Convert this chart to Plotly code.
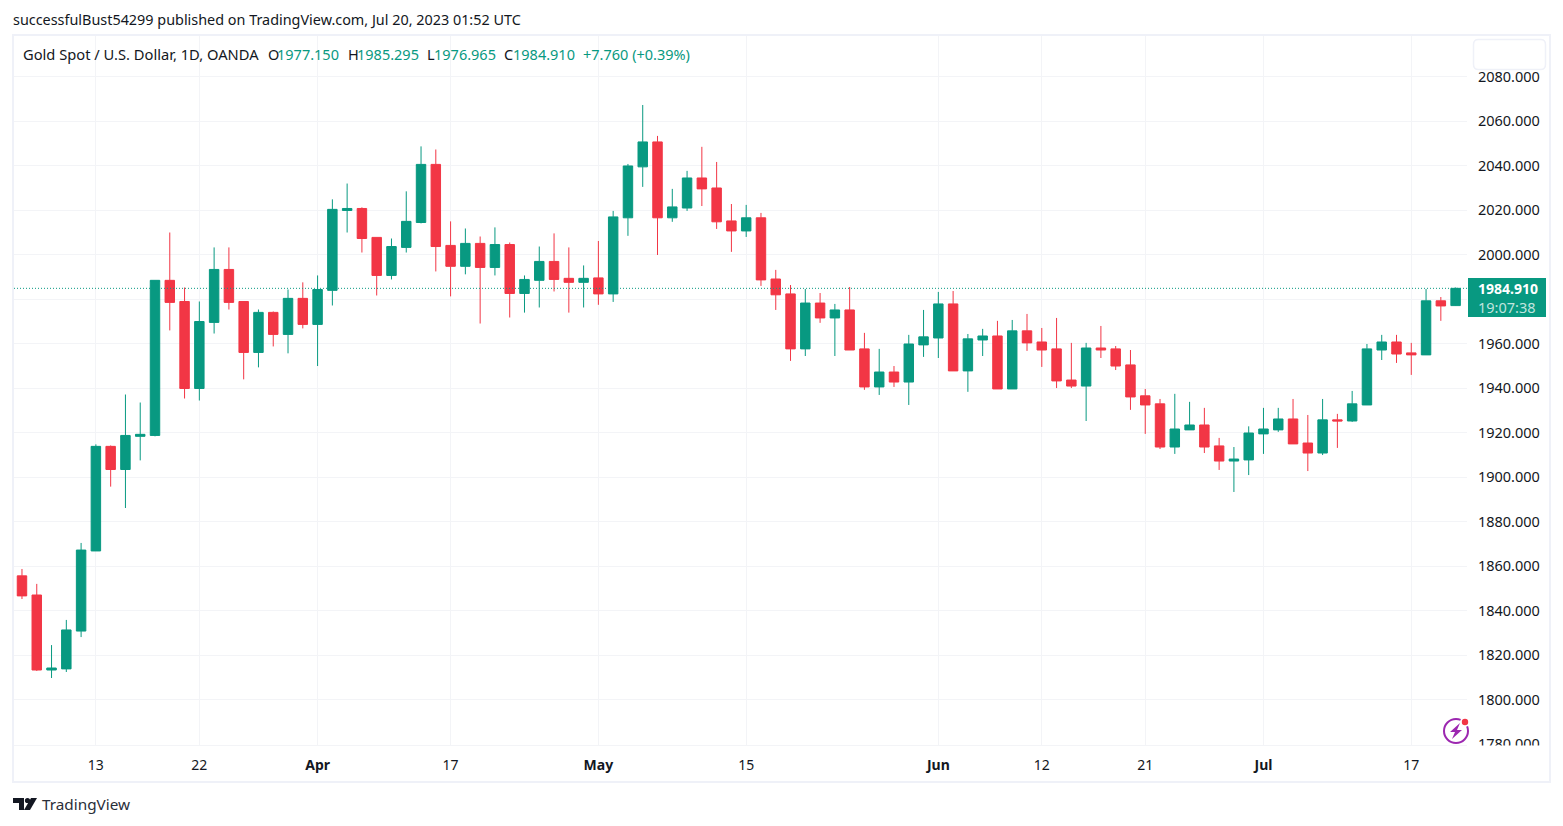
import pandas as pd
import plotly.graph_objects as go

# ============================================
# DATA
# ============================================
opens = [1855.7, 1847.1, 1813.4, 1813.9, 1830.9, 1866.9, 1913.9, 1903.5, 1918.4, 1918.8,
         1988.5, 1979.0, 1939.9, 1969.6, 1993.4, 1979.0, 1956.1, 1974.1, 1964.2, 1980.4,
         1968.7, 1984.0, 2019.9, 2020.8, 2007.8, 1990.7, 2003.3, 2014.5, 2040.6, 2004.2,
         1994.8, 2005.1, 1994.3, 2004.6, 1982.6, 1988.5, 1997.0, 1989.4, 1987.6, 1989.6,
         1982.4, 2016.6, 2039.5, 2050.7, 2016.6, 2021.0, 2034.5, 2030.0, 2015.2, 2010.7,
         2016.6, 1989.1, 1982.4, 1957.7, 1978.3, 1971.6, 1975.2, 1957.7, 1940.6, 1947.3,
         1942.8, 1959.5, 1962.6, 1977.9, 1947.8, 1961.7, 1963.5, 1939.7, 1965.8, 1960.8,
         1957.7, 1943.7, 1941.0, 1958.1, 1957.7, 1950.5, 1936.6, 1933.0, 1913.6, 1921.3,
         1923.5, 1914.1, 1907.3, 1907.8, 1919.5, 1921.3, 1926.2, 1915.4, 1910.9, 1925.8,
         1925.3, 1932.5, 1957.2, 1960.8, 1955.9, 1955.0, 1979.3, 1977.15]

highs = [1858.8, 1852.1, 1824.6, 1835.9, 1870.5, 1914.8, 1914.3, 1937.2, 1933.6, 1988.5,
         2010.0, 1985.3, 1979.0, 2003.3, 2003.3, 1979.0, 1975.4, 1974.5, 1984.4, 1987.6,
         1990.7, 2024.9, 2032.0, 2021.3, 2007.8, 2007.3, 2028.5, 2048.7, 2047.3, 2015.0,
         2011.8, 2008.2, 2012.3, 2005.5, 1990.7, 2003.7, 2009.6, 2003.3, 1995.2, 2006.2,
         2019.7, 2040.8, 2067.3, 2053.4, 2029.6, 2037.7, 2048.5, 2041.7, 2022.8, 2022.4,
         2018.8, 1993.2, 1986.4, 1984.6, 1982.8, 1977.9, 1985.5, 1964.9, 1957.7, 1950.0,
         1964.0, 1975.2, 1983.3, 1983.7, 1964.4, 1966.7, 1970.3, 1970.7, 1973.4, 1967.1,
         1971.6, 1960.4, 1960.4, 1968.0, 1959.0, 1957.2, 1939.7, 1935.2, 1937.5, 1933.9,
         1931.2, 1917.7, 1913.6, 1922.9, 1931.2, 1931.2, 1935.2, 1928.0, 1935.2, 1928.5,
         1938.8, 1959.9, 1964.0, 1964.0, 1960.4, 1984.6, 1981.0, 1985.295]

lows = [1845.3, 1813.0, 1809.8, 1812.5, 1828.2, 1866.9, 1895.8, 1886.2, 1907.6, 1918.4,
        1966.0, 1935.4, 1934.5, 1964.6, 1975.4, 1944.0, 1949.4, 1958.8, 1955.7, 1966.9,
        1950.0, 1977.2, 2010.0, 2001.0, 1981.7, 1988.9, 2001.0, 2014.1, 1992.5, 1981.3,
        1991.2, 1969.1, 1990.7, 1971.8, 1974.0, 1976.3, 1983.5, 1974.0, 1976.3, 1977.5,
        1978.8, 2008.5, 2030.5, 1999.9, 2014.8, 2019.7, 2021.9, 2011.6, 2001.3, 2008.0,
        1986.0, 1975.2, 1952.3, 1954.5, 1969.4, 1954.5, 1957.2, 1939.3, 1937.0, 1940.6,
        1932.5, 1954.1, 1953.6, 1947.8, 1938.4, 1954.5, 1939.7, 1939.7, 1956.8, 1949.6,
        1940.1, 1940.1, 1925.3, 1953.6, 1948.2, 1930.3, 1919.5, 1912.7, 1910.5, 1921.3,
        1910.9, 1903.3, 1893.4, 1901.0, 1910.5, 1920.4, 1915.0, 1902.8, 1910.0, 1913.2,
        1924.9, 1932.5, 1952.7, 1951.4, 1946.0, 1955.0, 1970.3, 1976.965]

closes = [1846.7, 1813.4, 1814.3, 1831.4, 1867.3, 1913.9, 1903.5, 1918.8, 1919.3, 1988.5,
          1978.6, 1939.9, 1970.0, 1993.4, 1978.6, 1956.1, 1974.1, 1964.2, 1980.4, 1968.7,
          1984.4, 2020.4, 2020.8, 2007.3, 1990.7, 2003.7, 2015.0, 2040.6, 2003.7, 1994.8,
          2005.1, 1994.3, 2004.6, 1982.6, 1988.9, 1997.0, 1988.9, 1987.6, 1989.4, 1982.4,
          2017.0, 2039.9, 2050.7, 2016.6, 2021.5, 2034.5, 2029.6, 2014.8, 2010.7, 2016.6,
          1988.7, 1982.0, 1957.7, 1978.3, 1971.6, 1975.2, 1957.2, 1940.6, 1947.3, 1942.8,
          1959.9, 1963.1, 1977.9, 1947.8, 1962.2, 1963.5, 1939.7, 1965.8, 1960.4, 1957.2,
          1943.3, 1941.0, 1958.1, 1957.2, 1950.0, 1936.1, 1932.5, 1913.6, 1921.7, 1923.5,
          1913.6, 1907.3, 1908.2, 1919.9, 1921.7, 1926.2, 1915.0, 1910.9, 1925.8, 1925.3,
          1933.0, 1957.7, 1960.8, 1955.4, 1955.0, 1979.3, 1977.0, 1984.91]

# trading days, Good Friday is missing from the feed
dates = [d.strftime("%Y-%m-%d") for d in pd.bdate_range("2023-03-06", "2023-07-20")
         if d.strftime("%Y-%m-%d") != "2023-04-07"]

tick_dates = ["2023-03-13", "2023-03-22", "2023-04-03", "2023-04-17", "2023-05-01", "2023-05-15",
              "2023-06-01", "2023-06-12", "2023-06-21", "2023-07-03", "2023-07-17"]
tick_labels = ["13", "22", "<b>Apr</b>", "17", "<b>May</b>", "15",
               "<b>Jun</b>", "12", "21", "<b>Jul</b>", "17"]
price_ticks = [1780, 1800, 1820, 1840, 1860, 1880, 1900, 1920, 1940, 1960, 1980,
               2000, 2020, 2040, 2060, 2080]
# 1980 sits behind the last price badge
price_labels = ["1780.000", "1800.000", "1820.000", "1840.000", "1860.000", "1880.000",
                "1900.000", "1920.000", "1940.000", "1960.000", "",
                "2000.000", "2020.000", "2040.000", "2060.000", "2080.000"]
last_price = 1984.91

# ============================================
# STYLE
# ============================================
GREEN = "#089981"
RED = "#F23645"
INK = "#131722"
GRID = "#f3f4f7"
FRAME = "#eff1f8"
FONT = "Noto Sans"

# plot area in page pixels
LEFT, RIGHT, TOP, BOTTOM = 14, 1467, 36, 745


def px(x):
    return (x - LEFT) / (RIGHT - LEFT)


def py(y):
    return (BOTTOM - y) / (BOTTOM - TOP)


def path(points):
    return "M " + " L ".join(f"{px(x)} {py(y)}" for x, y in points) + " Z"


def rect(x0, y0, x1, y1, **kw):
    return dict(type="rect", xref="paper", yref="paper", layer="above",
                x0=px(x0), y0=py(y0), x1=px(x1), y1=py(y1), **kw)


def round_rect(x0, y0, x1, y1, r, **kw):
    d = (f"M {px(x0 + r)} {py(y0)} L {px(x1 - r)} {py(y0)} Q {px(x1)} {py(y0)} {px(x1)} {py(y0 + r)} "
         f"L {px(x1)} {py(y1 - r)} Q {px(x1)} {py(y1)} {px(x1 - r)} {py(y1)} "
         f"L {px(x0 + r)} {py(y1)} Q {px(x0)} {py(y1)} {px(x0)} {py(y1 - r)} "
         f"L {px(x0)} {py(y0 + r)} Q {px(x0)} {py(y0)} {px(x0 + r)} {py(y0)} Z")
    return dict(type="path", xref="paper", yref="paper", layer="above", path=d, **kw)


def circle(cx, cy, r, **kw):
    return dict(type="circle", xref="paper", yref="paper", layer="above",
                x0=px(cx - r), y0=py(cy - r), x1=px(cx + r), y1=py(cy + r), **kw)


def shape_path(points, color):
    return dict(type="path", xref="paper", yref="paper", layer="above", path=path(points),
                fillcolor=color, line=dict(width=0))


def label(x, y, text, color=INK, size=14.5):
    return dict(xref="paper", yref="paper", x=px(x), y=py(y), text=text, showarrow=False,
                xanchor="left", yanchor="middle", align="left", borderpad=0, borderwidth=0,
                font=dict(family=FONT, size=size, color=color))


# ============================================
# CHART
# ============================================
fig = go.Figure(go.Candlestick(
    x=dates, open=opens, high=highs, low=lows, close=closes,
    increasing=dict(line=dict(color=GREEN, width=1), fillcolor=GREEN),
    decreasing=dict(line=dict(color=RED, width=1), fillcolor=RED),
    whiskerwidth=0,
    showlegend=False,
))

shapes = [
    # last price line
    dict(type="line", xref="paper", yref="y", x0=0, x1=1, y0=last_price, y1=last_price,
         layer="above", line=dict(color=GREEN, width=1, dash="1px,2px")),
    # clips the bottom price label
    rect(1468, 745.5, 1549, 760, fillcolor="white", line=dict(width=0)),
    # outer frame
    rect(13, 35, 1550, 782, line=dict(color=FRAME, width=2)),
    # empty button top right
    round_rect(1473.5, 39.5, 1545.5, 69.5, 5, fillcolor="white", line=dict(color=FRAME, width=1.5)),
    # last price badge
    rect(1468, 278, 1546, 317, fillcolor=GREEN, line=dict(width=0)),
    # lightning icon
    circle(1456, 731, 12, line=dict(color="#9C27B0", width=2), fillcolor="white"),
    shape_path([(1460, 723), (1450, 732), (1455, 732), (1452, 739), (1462, 730), (1457, 730)], "#9C27B0"),
    circle(1465, 722, 5, fillcolor="white", line=dict(width=0)),
    circle(1465, 722, 3.2, fillcolor=RED, line=dict(width=0)),
    # TradingView logo
    shape_path([(13, 798), (24, 798), (24, 810), (19, 810), (19, 803), (13, 803)], INK),
    circle(27.5, 800.5, 2.6, fillcolor=INK, line=dict(width=0)),
    shape_path([(31, 798), (37, 798), (30, 810), (24, 810)], INK),
]

annotations = [
    label(13, 19, "successfulBust54299 published on TradingView.com, Jul 20, 2023 01:52 UTC", size=14.4),
    label(23, 54, "Gold Spot / U.S. Dollar, 1D, OANDA", size=14.7),
    label(268, 54, "O"), label(277, 54, "1977.150", GREEN),
    label(348, 54, "H"), label(357, 54, "1985.295", GREEN),
    label(427, 54, "L"), label(434, 54, "1976.965", GREEN),
    label(504, 54, "C"), label(513, 54, "1984.910", GREEN),
    label(583, 54, "+7.760 (+0.39%)", GREEN),
    label(1478, 288.5, "<b>1984.910</b>", "white", 14),
    label(1478, 307, "19:07:38", "rgba(255,255,255,0.75)"),
    label(42, 804, "TradingView", "#2a2e39", 15.3),
]

fig.update_layout(
    width=1563, height=826,
    margin=dict(l=LEFT, r=1563 - RIGHT, t=TOP, b=826 - BOTTOM, pad=0),
    paper_bgcolor="white", plot_bgcolor="white",
    font=dict(family=FONT, size=14, color=INK),
    boxgap=0.36, boxgroupgap=0,
    shapes=shapes,
    annotations=annotations,
)
fig.update_xaxes(
    type="category", range=[-0.54, 97.77], rangeslider_visible=False,
    tickmode="array", tickvals=tick_dates, ticktext=tick_labels, tickangle=0,
    showgrid=True, gridcolor=GRID, gridwidth=1, zeroline=False,
    showline=True, linecolor=GRID, linewidth=1,
    ticks="outside", ticklen=7, tickcolor="rgba(0,0,0,0)",
    tickfont=dict(family=FONT, size=14, color=INK),
)
fig.update_yaxes(
    side="right", range=[1779.7, 2098.3],
    tickmode="array", tickvals=price_ticks, ticktext=price_labels,
    showgrid=True, gridcolor=GRID, gridwidth=1, zeroline=False, showline=False,
    ticks="outside", ticklen=7, tickcolor="rgba(0,0,0,0)",
    tickfont=dict(family=FONT, size=14.5, color=INK),
)

# ============================================
# SAVE FILE
# ============================================
fig.write_html("out.html", config={"displayModeBar": False},
               post_script="document.body.style.margin='0';")
